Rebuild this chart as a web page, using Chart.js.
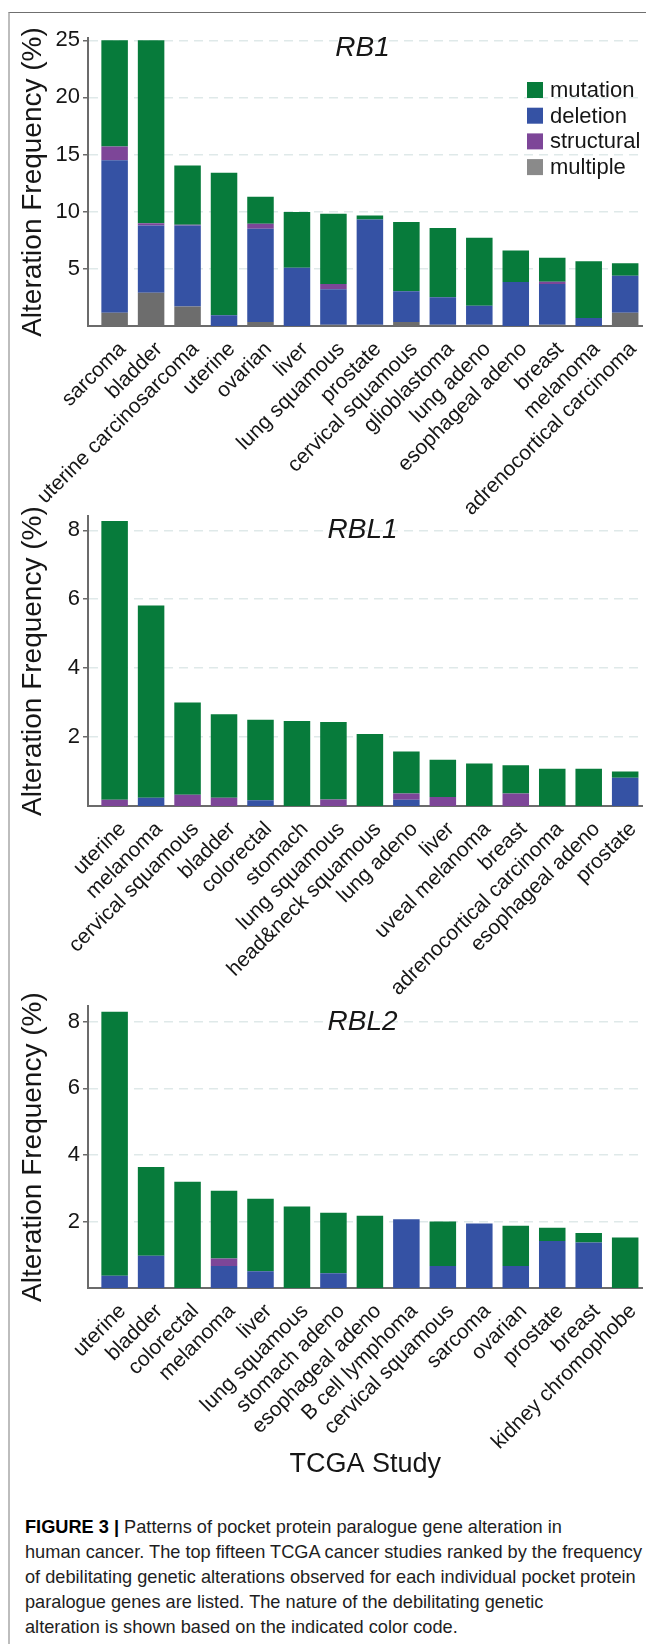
<!DOCTYPE html>
<html>
<head>
<meta charset="utf-8">
<script src="https://cdn.jsdelivr.net/npm/chart.js@4.4.0/dist/chart.umd.min.js"></script>
<style>
  html, body { margin: 0; padding: 0; background: #fff; }
  body { width: 646px; height: 1644px; position: relative; overflow: hidden;
         font-family: "Liberation Sans", Arial, sans-serif; }
  .frame { position: absolute; left: 8px; top: 12px; width: 700px; height: 1700px;
           border-top: 1.5px solid #6f6f6f; border-left: 2px solid #bdbdbd; }
  canvas { position: absolute; left: 0; }
  #caption { position: absolute; left: 25px; top: 1515px; font-size: 18.2px; line-height: 25px;
             color: #1e1e1e; white-space: nowrap; }
  #caption b { color: #000; }
</style>
</head>
<body>
<div class="frame"></div>
<canvas id="rbl2" width="646" height="510" style="top:990px"></canvas>
<canvas id="rbl1" width="646" height="510" style="top:500px"></canvas>
<canvas id="rb1" width="646" height="520" style="top:0px"></canvas>
<div id="caption"><b>FIGURE 3 |</b> Patterns of pocket protein paralogue gene alteration in<br>human cancer. The top fifteen TCGA cancer studies ranked by the frequency<br>of debilitating genetic alterations observed for each individual pocket protein<br>paralogue genes are listed. The nature of the debilitating genetic<br>alteration is shown based on the indicated color code.</div>

<script>
// ---- data ----
const rb1Labels = ['sarcoma', 'bladder', 'uterine carcinosarcoma', 'uterine', 'ovarian', 'liver',
    'lung squamous', 'prostate', 'cervical squamous', 'glioblastoma', 'lung adeno',
    'esophageal adeno', 'breast', 'melanoma', 'adrenocortical carcinoma'];
const rb1Multiple   = [1.15, 2.9, 1.7, 0, 0.35, 0, 0.12, 0.12, 0.35, 0.12, 0.12, 0, 0.12, 0, 1.15];
const rb1Deletion   = [13.35, 5.9, 7.1, 0.95, 8.15, 5.1, 3.1, 9.2, 2.7, 2.4, 1.65, 3.85, 3.55, 0.7, 3.25];
const rb1Structural = [1.2, 0.2, 0.05, 0, 0.45, 0, 0.45, 0, 0, 0, 0, 0, 0.2, 0, 0];
const rb1Mutation   = [9.3, 16.0, 5.2, 12.45, 2.35, 4.87, 6.15, 0.35, 6.05, 6.05, 5.95, 2.75, 2.1, 4.97, 1.1];
const rb1Ticks = [5, 10, 15, 20, 25];

const rbl1Labels = ['uterine', 'melanoma', 'cervical squamous', 'bladder', 'colorectal', 'stomach',
    'lung squamous', 'head&neck squamous', 'lung adeno', 'liver', 'uveal melanoma', 'breast',
    'adrenocortical carcinoma', 'esophageal adeno', 'prostate'];
const rbl1Multiple   = [0, 0, 0, 0, 0, 0, 0, 0, 0, 0, 0, 0, 0, 0, 0];
const rbl1Deletion   = [0, 0.24, 0, 0, 0.17, 0, 0, 0, 0.18, 0, 0, 0, 0, 0, 0.82];
const rbl1Structural = [0.18, 0, 0.33, 0.24, 0, 0, 0.19, 0, 0.18, 0.26, 0, 0.36, 0, 0, 0];
const rbl1Mutation   = [8.09, 5.58, 2.67, 2.42, 2.33, 2.47, 2.25, 2.09, 1.22, 1.08, 1.23, 0.82, 1.08, 1.08, 0.18];
const rbl1Ticks = [2, 4, 6, 8];

const rbl2Labels = ['uterine', 'bladder', 'colorectal', 'melanoma', 'liver', 'lung squamous',
    'stomach adeno', 'esophageal adeno', 'B cell lymphoma', 'cervical squamous', 'sarcoma',
    'ovarian', 'prostate', 'breast', 'kidney chromophobe'];
const rbl2Multiple   = [0, 0, 0, 0, 0, 0, 0, 0, 0, 0, 0, 0, 0, 0, 0];
const rbl2Deletion   = [0.37, 0.97, 0, 0.66, 0.5, 0, 0.44, 0, 2.07, 0.66, 1.94, 0.66, 1.41, 1.37, 0];
const rbl2Structural = [0, 0, 0, 0.23, 0, 0, 0, 0, 0, 0, 0, 0, 0, 0, 0];
const rbl2Mutation   = [7.93, 2.67, 3.19, 2.03, 2.18, 2.45, 1.82, 2.17, 0, 1.34, 0, 1.21, 0.4, 0.28, 1.52];
const rbl2Ticks = [2, 4, 6, 8];

// stacking order, bottom to top
const seriesNames = ['multiple', 'deletion', 'structural', 'mutation'];
// order of the legend rows
const legendOrder = ['mutation', 'deletion', 'structural', 'multiple'];
const colors = {
    mutation: '#077b3b',
    deletion: '#3552a4',
    structural: '#7d4698',
    multiple: '#6d6d6d'
};
const legendColors = { multiple: '#8a8a8a' };

const FONT = '"Liberation Sans", Arial, sans-serif';
const TEXT = '#161616';

// draws the gene name inside the plot and (optionally) the legend box
const panelDecor = {
    id: 'panelDecor',
    afterDatasetsDraw(chart, args, opts) {
        const ctx = chart.ctx;
        const xs = chart.scales.x, ys = chart.scales.y;
        ctx.save();
        ctx.fillStyle = TEXT;
        ctx.font = 'italic 28px ' + FONT;
        ctx.textAlign = 'center';
        ctx.textBaseline = 'middle';
        ctx.fillText(opts.gene, xs.getPixelForValue(opts.geneAt[0]), ys.getPixelForValue(opts.geneAt[1]));
        if (opts.legend) {
            const lg = opts.legend;
            ctx.font = '22px ' + FONT;
            ctx.textAlign = 'left';
            legendOrder.forEach((name, i) => {
                const d = chart.data.datasets.find(ds => ds.label === name);
                const cy = lg.y + i * lg.row;
                ctx.fillStyle = legendColors[name] || d.backgroundColor;
                ctx.fillRect(lg.x, cy - 8, 16, 16);
                ctx.fillStyle = TEXT;
                ctx.fillText(d.label, lg.x + 23, cy + 1);
            });
        }
        ctx.restore();
    }
};

function buildDatasets(series) {
    return seriesNames.map(name => ({
        label: name,
        data: series[name].map((v, i) => ({ x: i, y: v })),
        backgroundColor: colors[name],
        borderWidth: 0,
        categoryPercentage: 0.727,
        barPercentage: 1
    }));
}

function makePanel(id, labels, series, cfg) {
    return new Chart(document.getElementById(id), {
        type: 'bar',
        data: { datasets: buildDatasets(series) },
        plugins: [panelDecor],
        options: {
            responsive: false,
            animation: false,
            devicePixelRatio: 1,
            layout: { padding: { top: cfg.padTop, left: 0, right: 0, bottom: 0 } },
            scales: {
                x: {
                    type: 'linear',
                    stacked: true,
                    offset: false,
                    min: -0.73,
                    max: 14.48,
                    afterBuildTicks: s => { s.ticks = labels.map((_, i) => ({ value: i })); },
                    afterFit: s => { s.height = cfg.xHeight; },
                    grid: { display: false, offset: false },
                    border: { color: '#6b6b6b', width: 2 },
                    ticks: {
                        autoSkip: false,
                        minRotation: 45,
                        maxRotation: 45,
                        padding: 3,
                        labelOffset: 8,
                        color: TEXT,
                        font: { family: FONT, size: 21 },
                        callback: v => labels[v]
                    },
                    title: {
                        display: !!cfg.xTitle,
                        text: cfg.xTitle || '',
                        color: TEXT,
                        font: { family: FONT, size: 27 },
                        padding: { top: 0, bottom: cfg.xTitlePad || 0 }
                    }
                },
                y: {
                    stacked: true,
                    min: 0,
                    max: cfg.yMax,
                    afterBuildTicks: s => { s.ticks = cfg.yTicks.map(v => ({ value: v })); },
                    afterFit: s => { s.width = 88; },
                    grid: { color: '#dfe9e9', lineWidth: 1.5, tickColor: '#6b6b6b', tickLength: 5, tickWidth: 1.5 },
                    border: { color: '#6b6b6b', width: 2, dash: [9, 6] },
                    ticks: { color: TEXT, padding: 3, font: { family: FONT, size: 22 } },
                    title: {
                        display: true,
                        text: 'Alteration Frequency (%)',
                        color: TEXT,
                        font: { family: FONT, size: 28 },
                        padding: { top: 16, bottom: 0 }
                    }
                }
            },
            plugins: {
                legend: { display: false },
                tooltip: { enabled: false },
                panelDecor: { gene: cfg.gene, geneAt: cfg.geneAt, legend: cfg.legend }
            }
        }
    });
}

makePanel('rb1', rb1Labels,
    { multiple: rb1Multiple, deletion: rb1Deletion, structural: rb1Structural, mutation: rb1Mutation },
    { padTop: 38, xHeight: 194, yMax: 25.2, yTicks: rb1Ticks, gene: 'RB1', geneAt: [6.8, 24.3],
      legend: { x: 527, y: 90, row: 25.7 } });

makePanel('rbl1', rbl1Labels,
    { multiple: rbl1Multiple, deletion: rbl1Deletion, structural: rbl1Structural, mutation: rbl1Mutation },
    { padTop: 15, xHeight: 204, yMax: 8.41, yTicks: rbl1Ticks, gene: 'RBL1', geneAt: [6.8, 8] });

makePanel('rbl2', rbl2Labels,
    { multiple: rbl2Multiple, deletion: rbl2Deletion, structural: rbl2Structural, mutation: rbl2Mutation },
    { padTop: 7, xHeight: 212, yMax: 8.47, yTicks: rbl2Ticks, gene: 'RBL2', geneAt: [6.8, 8],
      xTitle: 'TCGA Study', xTitlePad: 19 });
</script>
</body>
</html>
